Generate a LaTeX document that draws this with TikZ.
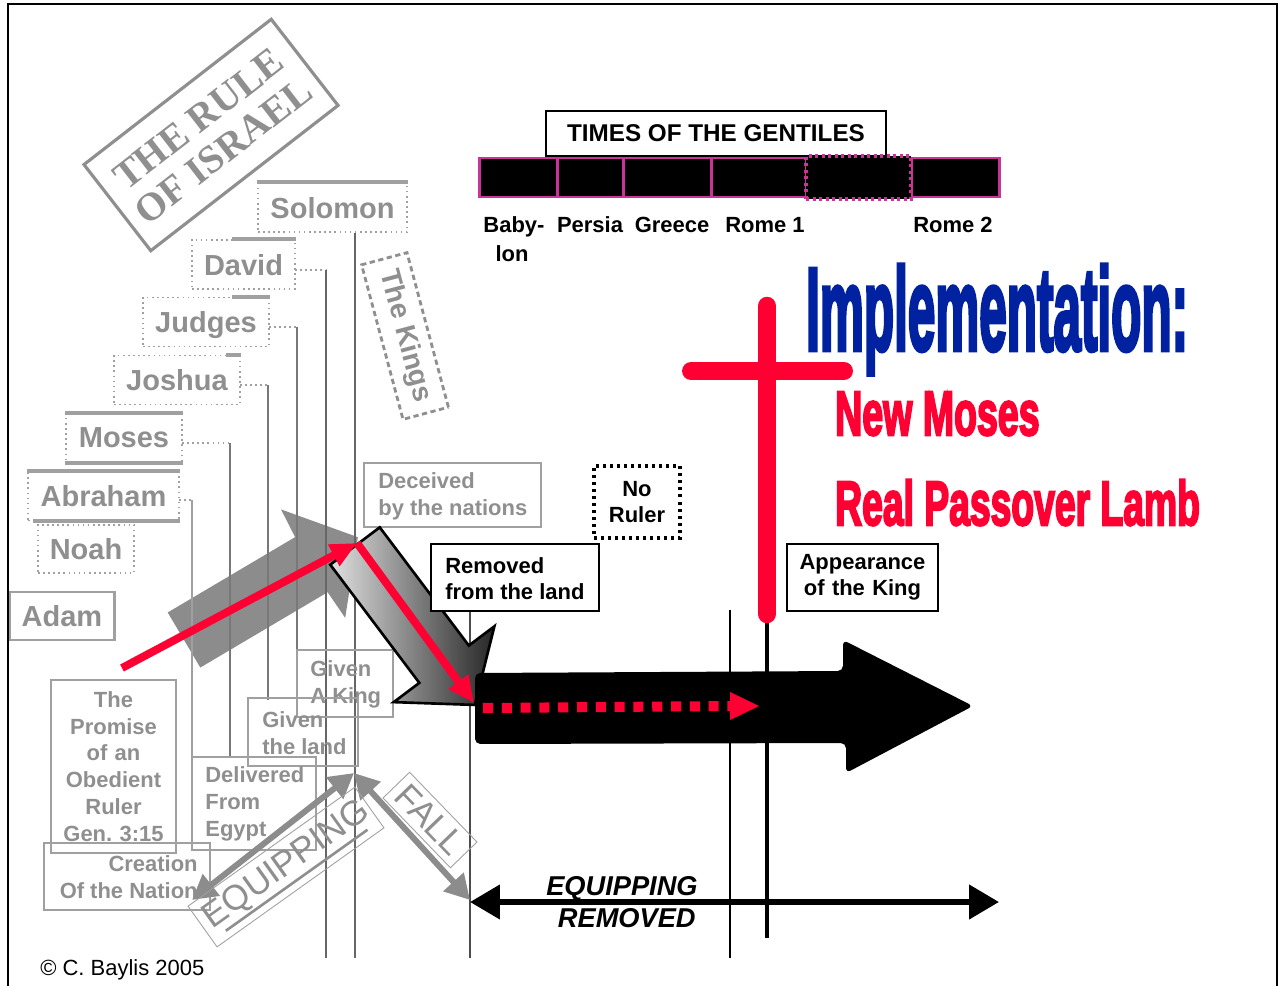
\documentclass[tikz,border=0pt]{standalone}
\usepackage{fontspec}
\setmainfont{Liberation Sans}
\newfontfamily\serifb{Liberation Serif}
\newfontfamily\heavy[BoldFeatures={FakeBold=4}]{Liberation Sans}
\usetikzlibrary{arrows.meta,calc}
\definecolor{tgray}{RGB}{143,143,143}
\definecolor{lgray}{RGB}{160,160,160}
\definecolor{agray}{RGB}{140,140,140}
\definecolor{vgray}{RGB}{120,120,120}
\definecolor{mag}{RGB}{204,51,153}
\definecolor{xred}{RGB}{255,0,51}
\definecolor{xblue}{RGB}{0,34,160}
\newcommand\pxl[1]{#1*0.2mm}
\frenchspacing
\tikzset{
 rbox/.style={draw=lgray, dotted, line width=0.9pt, text=tgray, inner sep=0, text depth=0pt, font=\bfseries\fontsize{16.5pt}{18pt}\selectfont},
 rtop/.style={draw=lgray, solid, line width=2.2pt},
 dconn/.style={draw=lgray, dotted, line width=0.9pt},
 vline/.style={draw=vgray, line width=0.9pt},
 gframe/.style={draw=lgray, line width=0.7pt, inner sep=0},
 gtext/.style={text=tgray, inner sep=0, anchor=west, align=left, font=\bfseries\fontsize{12.5pt}{15.2pt}\selectfont},
 gbox/.style={draw=lgray, line width=0.7pt, text=tgray, inner ysep=0, font=\bfseries\fontsize{12.5pt}{15.2pt}\selectfont},
 kbox/.style={draw=black, line width=1.2pt, text=black, inner ysep=0, font=\bfseries\fontsize{12.5pt}{14.8pt}\selectfont},
 ktext/.style={text=black, inner sep=0, anchor=west, align=left, font=\bfseries\fontsize{12.5pt}{14.8pt}\selectfont},
 lab/.style={font=\bfseries\fontsize{12.5pt}{15pt}\selectfont, inner sep=0, anchor=base},
 seg/.style={draw=mag, fill=black, line width=1.7pt, minimum height=\pxl{39}, inner sep=0},
 bigtxt/.style={anchor=base west, inner sep=0},
}
\begin{document}
\begin{tikzpicture}[x=0.2mm,y=-0.2mm]
\useasboundingbox (0,0) rectangle (1278,986);
% frame
\coordinate (fA) at (8,990); \coordinate (fB) at (8,4); \coordinate (fC) at (1277,4); \coordinate (fD) at (1277,990);
\draw[line width=1.1pt] (fA) -- (fB) -- (fC) -- (fD);

% title rotated
\node[draw=tgray, line width=1.8pt, rotate=37.8, minimum width=\pxl{237}, minimum height=\pxl{109}, text=tgray, align=center, inner sep=0,
  font=\serifb\bfseries\fontsize{22.5pt}{23pt}\selectfont] (rule) at (211,135) {THE RULE\\OF ISRAEL};

% ruler boxes
\node[rbox, minimum width=\pxl{149}, minimum height=\pxl{49}] (solomon) at (332.5,207.5) {Solomon};
\node[rbox, minimum width=\pxl{103}, minimum height=\pxl{49}] (david) at (243.5,264.5) {David};
\node[rbox, minimum width=\pxl{126}, minimum height=\pxl{49}] (judges) at (206,322) {Judges};
\node[rbox, minimum width=\pxl{126}, minimum height=\pxl{49}] (joshua) at (177,380) {Joshua};
\node[rbox, minimum width=\pxl{116}, minimum height=\pxl{49}] (moses) at (124,438) {Moses};
\node[rbox, minimum width=\pxl{151}, minimum height=\pxl{49}] (abraham) at (103.5,496) {Abraham};
\node[rbox, minimum width=\pxl{96}, minimum height=\pxl{48}] (noah) at (86,549) {Noah};
\node[rbox, solid, line width=0.7pt, minimum width=\pxl{104}, minimum height=\pxl{48}] (adam) at (62,616) {Adam};
\draw[rtop] (solomon.north west) -- (solomon.north east);
\draw[rtop] ($(david.north west)+(41,0)$) -- (david.north east);
\draw[rtop] ($(judges.north west)+(90,0)$) -- (judges.north east);
\draw[rtop] ($(joshua.north west)+(113,0)$) -- (joshua.north east);
\draw[rtop] (moses.north west) -- (moses.north east);
\draw[rtop] (moses.south west) -- (moses.south east);
\draw[rtop] (abraham.north west) -- (abraham.north east);
\draw[rtop] ($(abraham.south west)+(6,0)$) -- (abraham.south east);
\draw[lgray, line width=1.8pt] (adam.north east) -- (adam.south east);

% gray solid arrow
\begin{scope}[shift={(184,640)}, rotate=30.6]
\fill[agray] (0,-32) -- (148,-32) -- (150,-63) -- (202,0) -- (150,63) -- (148,32) -- (0,32) -- cycle;
\end{scope}

% connectors and vertical lines
\coordinate (soA) at (355,233); \coordinate (soB) at (355,958);
\draw[vline, draw=black!60] (soA) -- (soB);
\coordinate (dvA) at (295,270); \coordinate (dvB) at (326,270); \coordinate (dvC) at (326,958);
\draw[dconn] (dvA) -- (dvB); \draw[vline, draw=black!60] (dvB) -- (dvC);
\coordinate (jgA) at (269,327); \coordinate (jgB) at (297,327); \coordinate (jgC) at (297,650);
\draw[dconn] (jgA) -- (jgB); \draw[vline] (jgB) -- (jgC);
\coordinate (jsA) at (240,385); \coordinate (jsB) at (268,385); \coordinate (jsC) at (268,700);
\draw[dconn] (jsA) -- (jsB); \draw[vline] (jsB) -- (jsC);
\coordinate (moA) at (182,443); \coordinate (moB) at (230,443); \coordinate (moC) at (230,757);
\draw[dconn] (moA) -- (moB); \draw[vline] (moB) -- (moC);
\coordinate (abA) at (179,500); \coordinate (abB) at (192,500); \coordinate (abC) at (192,757);
\draw[dconn] (abA) -- (abB); \draw[vline, draw=lgray] (abB) -- (abC);
\coordinate (l1A) at (470,612); \coordinate (l1B) at (470,958);
\draw[line width=0.7pt, black!70] (l1A) -- (l1B);
\coordinate (l2A) at (730,610); \coordinate (l2B) at (730,958);
\draw[line width=0.7pt, black] (l2A) -- (l2B);
\coordinate (l3A) at (767,610); \coordinate (l3B) at (767,938);
\draw[line width=1.8pt, black] (l3A) -- (l3B);

% The Kings
\node[draw=tgray, densely dashed, line width=1.6pt, rotate=-75, minimum width=\pxl{160}, minimum height=\pxl{47}, text=tgray, inner sep=0,
  font=\bfseries\fontsize{16pt}{16pt}\selectfont] (kings) at (405,336) {The Kings};

% gray labelled boxes
\node[gframe, line width=1.2pt, minimum width=\pxl{177}, minimum height=\pxl{64}] (deceived) at (452.5,495) {};
\node[gtext] (deceivedT) at (378,496) {Deceived\\by the nations};
\node[gframe, line width=1.1pt, minimum width=\pxl{96}, minimum height=\pxl{67}] (king) at (345,683.5) {};
\node[gtext] (kingT) at (310,684.5) {Given\\A King};
\node[gframe, line width=1.1pt, minimum width=\pxl{110}, minimum height=\pxl{68}] (land) at (303,732) {};
\node[gtext] (landT) at (262,733) {Given\\the land};
\node[gframe, minimum width=\pxl{124}, minimum height=\pxl{93}] (egypt) at (254,803.5) {};
\node[gtext] (egyptT) at (205,804) {Delivered\\From\\Egypt};
\node[gbox, text width=\pxl{125}, inner xsep=0, minimum height=\pxl{173}, align=center, font=\bfseries\fontsize{12.5pt}{15.3pt}\selectfont] (promise) at (113.5,766.5) {The\\Promise\\of an\\Obedient\\Ruler\\Gen. 3:15};
\node[gframe, minimum width=\pxl{166}, minimum height=\pxl{67}] (creation) at (127,876.5) {};
\node[gtext, anchor=east, align=right] (creationT) at (198,877) {Creation\\Of the Nation};

% gradient arrow
\begin{scope}[shift={(355,546)}, rotate=-53]
\shadedraw[draw=black, line width=1.5pt, left color=black!12, right color=black!85] (0,-31) -- (148,-31) -- (148,-63) -- (199,0) -- (148,63) -- (148,31) -- (0,31) -- cycle;
\end{scope}

% red arrows
\coordinate (rA) at (122,668); \coordinate (rB) at (357,543); \coordinate (rC) at (474,703);
\draw[xred, line width=4.5pt, -{Triangle[length=15pt,width=13pt]}] (rA) -- (rB);
\draw[xred, line width=4.5pt, -{Triangle[length=15pt,width=13pt]}] (rB) -- (rC);

% big black arrow
\fill[black, rounded corners=3pt] (475,673) -- (843,671) -- (843,640) -- (973,706) -- (846,773) -- (846,743) -- (475,744) -- cycle;
\coordinate (dA) at (483,708); \coordinate (dB) at (731,706); \coordinate (dC) at (759,706);
\draw[xred, line width=5.7pt, dash pattern=on 5.7pt off 5pt] (dA) -- (dB);
\fill[xred] (730,692) -- (dC) -- (730,720) -- cycle;

% gray double arrows
\coordinate (eA) at (192,900); \coordinate (eB) at (354,773); \coordinate (eC) at (470,900);
\draw[agray, line width=3.4pt, {Triangle[length=14pt,width=15pt]}-{Triangle[length=14pt,width=15pt]}] (eA) -- (eB);
\draw[agray, line width=3.4pt, {Triangle[length=14pt,width=15pt]}-{Triangle[length=14pt,width=15pt]}] (eB) -- (eC);

\begin{scope}[shift={(286,867)}, rotate=35.5]
\node[draw=lgray, line width=0.5pt, transform shape, minimum width=\pxl{205}, minimum height=\pxl{50}, text=tgray, inner sep=0,
  font=\fontsize{20pt}{20pt}\selectfont] (equip) at (0,0) {};
\node[text=tgray, transform shape, inner sep=0, font=\fontsize{20pt}{20pt}\selectfont] (equipT) at (2,-1) {EQUIPPING};
\coordinate (uA) at (-86,17); \coordinate (uB) at (88,17);
\draw[tgray, line width=1.5pt] (uA) -- (uB);
\end{scope}
\begin{scope}[shift={(430,820)}, rotate=-46]
\node[draw=lgray, line width=0.5pt, transform shape, minimum width=\pxl{97}, minimum height=\pxl{37}, text=tgray, inner sep=0,
  font=\fontsize{20pt}{20pt}\selectfont] (fall) at (0,0) {FALL};
\end{scope}

% black double arrow
\coordinate (bA) at (470,902); \coordinate (bB) at (999,902);
\draw[black, line width=3.4pt, {Triangle[length=17pt,width=19pt]}-{Triangle[length=17pt,width=19pt]}] (bA) -- (bB);
\node[anchor=base east, inner sep=0, font=\bfseries\itshape\fontsize{15.5pt}{18pt}\selectfont] (eqr) at (698,895) {EQUIPPING};
\node[anchor=base east, inner sep=0, font=\bfseries\itshape\fontsize{15.5pt}{18pt}\selectfont] (rem) at (696,927) {REMOVED};

% black boxes
\node[kbox, minimum width=\pxl{168}, minimum height=\pxl{67}, inner sep=0, fill=white] (removed) at (515,577.5) {};
\node[ktext] (removedT) at (445,579) {Removed\\from the land};
\node[kbox, line width=0.7pt, text width=\pxl{151}, inner xsep=0, minimum height=\pxl{67}, align=center] (appear) at (862.5,577.5) {Appearance\\of the King};
\node[kbox, dash pattern=on 1.7pt off 2.3pt, line width=1.8pt, text width=\pxl{86}, inner xsep=0, minimum height=\pxl{72}, align=center] (noruler) at (637,502) {No\\Ruler};

% times of the gentiles
\node[draw=black, line width=1.2pt, fill=white, minimum width=\pxl{340}, minimum height=\pxl{45}, inner sep=0,
  font=\bfseries\fontsize{13.8pt}{15pt}\selectfont] (times) at (716,133.5) {TIMES OF THE GENTILES};
\node[seg, minimum width=\pxl{78}] (sbab) at (518,177.5) {};
\node[seg, minimum width=\pxl{66}] (sper) at (590,177.5) {};
\node[seg, minimum width=\pxl{88}] (sgre) at (667,177.5) {};
\node[seg, minimum width=\pxl{95}] (srom) at (758.5,177.5) {};
\node[seg, minimum width=\pxl{88}] (srtw) at (955,177.5) {};
\node[seg, dotted, line width=2.4pt, minimum width=\pxl{105}, minimum height=\pxl{43}] (sgap) at (858.5,177.5) {};
\node[lab] (lbab) at (514,233) {Baby-};
\node[lab] (llon) at (512,262) {lon};
\node[lab] (lper) at (590,233) {Persia};
\node[lab] (lgre) at (672,233) {Greece};
\node[lab] (lrom) at (765,233) {Rome 1};
\node[lab] (lrtw) at (953,233) {Rome 2};

% cross
\coordinate (cA) at (767,306); \coordinate (cB) at (767,614);
\coordinate (cC) at (691,371); \coordinate (cD) at (844,371);
\draw[xred, line width=10.5pt, line cap=round] (cA) -- (cB);
\draw[xred, line width=10.2pt, line cap=round] (cC) -- (cD);

% implementation texts
\node[bigtxt, xscale=0.42, text=xblue, font=\heavy\bfseries\fontsize{67pt}{67pt}\selectfont] (impl) at (806,350) {Implementation:};
\node[bigtxt, xscale=0.6, text=xred, font=\heavy\bfseries\fontsize{35.6pt}{36pt}\selectfont] (newm) at (835,435) {New Moses};
\node[bigtxt, xscale=0.596, text=xred, font=\heavy\bfseries\fontsize{35.6pt}{36pt}\selectfont] (lamb) at (835,525) {Real Passover Lamb};

% copyright
\node[anchor=west, inner sep=0, font=\fontsize{12.5pt}{14pt}\selectfont] (copy) at (40,970) {© C. Baylis 2005};
\end{tikzpicture}
\end{document}
